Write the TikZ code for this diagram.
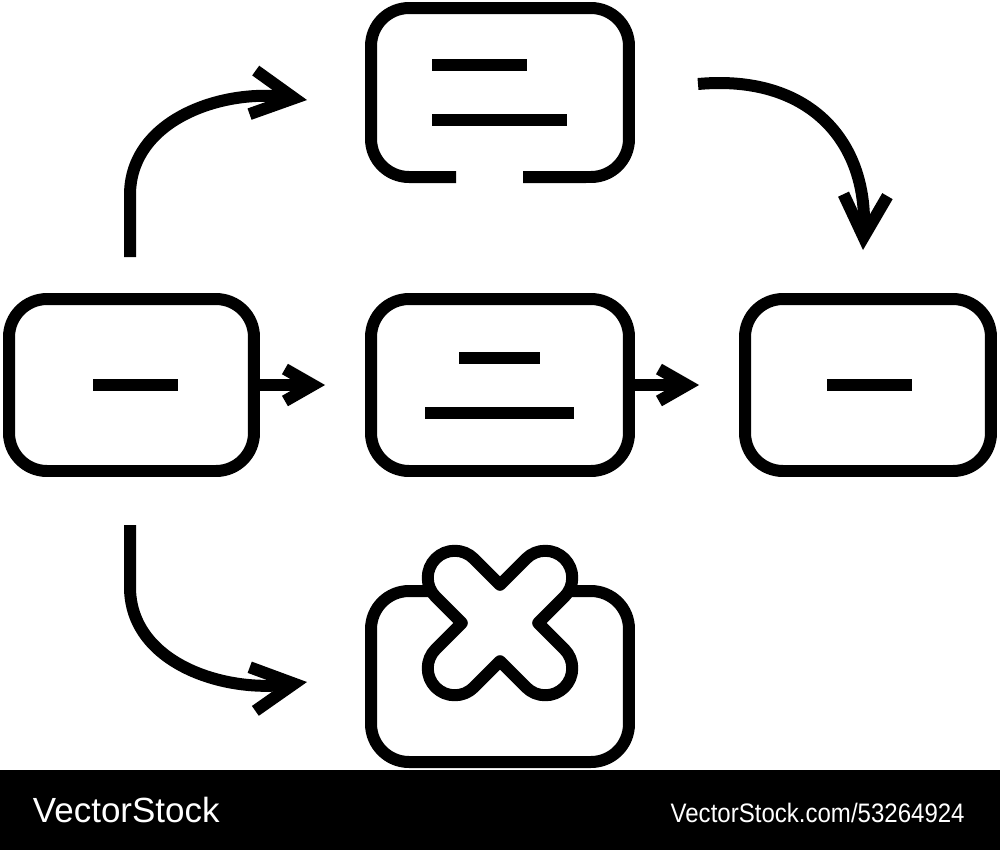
\documentclass[tikz,border=0pt]{standalone}
\usepackage{fontspec}
\newfontfamily\markfont{Liberation Sans}
\usetikzlibrary{arrows.meta}

\begin{document}
\begin{tikzpicture}[x=0.02cm, y=-0.02cm, line width=0.24cm,
    card/.style={draw, rounded corners=0.76cm, inner sep=0pt, minimum height=3.44cm},
    small/.style={-{Straight Barb[length=0.56cm, width=0.64cm, line join=miter]}},
    big/.style={-{Straight Barb[length=0.84cm, width=0.88cm, line join=miter]}},
    stamp/.style={text=white, inner sep=0pt}]
  \useasboundingbox (0,0) rectangle (1000,850);

  \node[card, minimum width=4.9cm] (src) at (131.5,385) {};
  \node[card, minimum width=5.16cm] (mid) at (500,385) {};
  \node[card, minimum width=4.92cm] (dst) at (868,385) {};
  \node[inner sep=0pt, outer sep=0pt, minimum width=5.16cm, minimum height=3.38cm] (note) at (500,92.5) {};
  \node[card, minimum width=5.16cm, minimum height=3.42cm] (fail) at (500,676.5) {};

  \draw[rounded corners=0.76cm] (456,177) -- (note.south west) -- (note.north west)
    -- (note.north east) -- (note.south east) -- (523,177);
  \draw (432,65) -- (527,65);
  \draw (432,120) -- (567,120);
  \draw (93,385) -- (178,385);
  \draw (459,358) -- (540,358);
  \draw (425,413) -- (574,413);
  \draw (827,385) -- (912,385);

  \begin{scope}[shift={(500,623)}, rotate=45]
    \draw[fill=white, line join=round] (27,27) -- (64,27) arc[start angle=90, end angle=-90, radius=27]
      -- (27,-27) -- (27,-64) arc[start angle=0, end angle=-180, radius=27]
      -- (-27,-64) -- (-27,-27) -- (-64,-27) arc[start angle=270, end angle=90, radius=27]
      -- (-27,27) -- (-27,64) arc[start angle=180, end angle=0, radius=27]
      -- (27,64) -- cycle;
  \end{scope}

  \coordinate (up0) at (130,257);
  \coordinate (up1) at (307,100);
  \coordinate (dn0) at (130,525);
  \coordinate (dn1) at (307,682);
  \coordinate (rt0) at (698,84);
  \coordinate (rt1) at (863,250);

  \draw[small, shorten >=0.8cm] (src.east) -- (mid.west);
  \draw[small, shorten >=0.8cm] (mid.east) -- (dst.west);
  \draw[big] (up0) -- (130,195) .. controls +(0,-75) and +(-85,-12) .. (up1);
  \draw[big] (dn0) -- (130,587) .. controls +(0,75) and +(-85,11) .. (dn1);
  \draw[big] (rt0) .. controls +(110,-10) and +(5,-110) .. (rt1);

  \fill (0,770) rectangle (1000,850);
  \node[stamp, anchor=base west, font=\markfont\fontsize{19.9}{22}\selectfont] (brand) at (27,822) {VectorStock};
  \node[stamp, anchor=base east, xscale=0.9, font=\markfont\fontsize{15.2}{18}\selectfont] (ref) at (970,822) {VectorStock.com/53264924};
\end{tikzpicture}
\end{document}
